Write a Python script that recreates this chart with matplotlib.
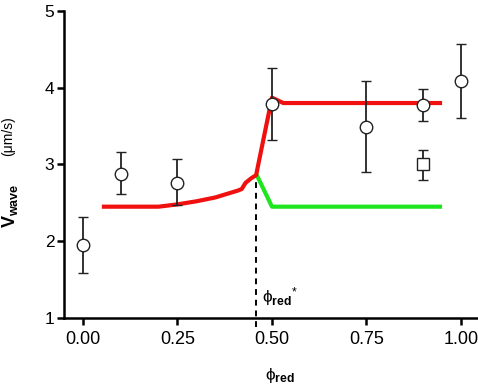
import numpy as np
import matplotlib
matplotlib.use('Agg')
import matplotlib.pyplot as plt

plt.rcParams['font.family'] = ['Liberation Sans', 'DejaVu Sans']
plt.rcParams['mathtext.fontset'] = 'custom'
plt.rcParams['mathtext.rm'] = 'Liberation Sans'
plt.rcParams['mathtext.bf'] = 'Liberation Sans:bold'
plt.rcParams['mathtext.it'] = 'Liberation Sans:italic'
plt.rcParams['mathtext.sf'] = 'Liberation Sans'

# measured wave speeds (open circles)
phi_exp = [0.00, 0.10, 0.25, 0.50, 0.75, 0.90, 1.00]
v_exp = [1.95, 2.88, 2.76, 3.79, 3.49, 3.77, 4.09]
v_exp_lo = [1.59, 2.62, 2.47, 3.32, 2.90, 3.56, 3.60]
v_exp_hi = [2.31, 3.16, 3.07, 4.25, 4.09, 3.98, 4.57]

# extra measurement (open square)
phi_sq = [0.90]
v_sq = [3.00]
v_sq_lo = [2.80]
v_sq_hi = [3.19]

# model curves
phi_red = [0.05, 0.20, 0.25, 0.30, 0.35, 0.39, 0.41, 0.42, 0.43, 0.445, 0.458, 0.50, 0.53, 0.95]
v_red = [2.45, 2.45, 2.48, 2.52, 2.57, 2.63, 2.66, 2.68, 2.76, 2.82, 2.86, 3.87, 3.80, 3.80]
phi_green = [0.458, 0.50, 0.95]
v_green = [2.88, 2.45, 2.45]

phi_star = 0.458

#===============================================================================
fig = plt.figure(figsize=(4.78, 3.89), dpi=100)
ax = fig.add_axes([0.134, 0.1825, 0.866, 0.7895])

ax.plot(phi_green, v_green, color='#1ee61e', lw=3.0, solid_capstyle='butt', zorder=2)
ax.plot(phi_red, v_red, color='#f01010', lw=3.0, solid_capstyle='butt', zorder=3)

ax.plot([phi_star, phi_star], [0.88, v_green[0]], color='black', ls=(0, (3, 2.5)),
        lw=1.4, clip_on=False, zorder=1)

v_exp = np.array(v_exp)
yerr = [v_exp - np.array(v_exp_lo), np.array(v_exp_hi) - v_exp]
ax.errorbar(phi_exp, v_exp, yerr=yerr, fmt='o', ms=9, mfc='white', mec='#222222',
            mew=1.0, ecolor='#222222', elinewidth=1.3, capsize=3.5, capthick=1.3,
            zorder=4)

v_sq = np.array(v_sq)
yerr_sq = [v_sq - np.array(v_sq_lo), np.array(v_sq_hi) - v_sq]
ax.errorbar(phi_sq, v_sq, yerr=yerr_sq, fmt='s', ms=8, mfc='white', mec='#222222',
            mew=1.0, ecolor='#222222', elinewidth=1.3, capsize=3.5, capthick=1.3,
            zorder=4)

ax.set_xlim([-0.05, 1.045])
ax.set_ylim([1, 5])
ax.set_xticks([0.0, 0.25, 0.5, 0.75, 1.0])
ax.set_xticklabels(['0.00', '0.25', '0.50', '0.75', '1.00'])
ax.set_yticks([1, 2, 3, 4, 5])

for s in ['top', 'right']:
    ax.spines[s].set_visible(False)
for s in ['left', 'bottom']:
    ax.spines[s].set_linewidth(1.8)
ax.tick_params(axis='both', direction='out', length=5, width=1.8, color='black')
ax.tick_params(axis='x', labelsize=13, pad=4)
ax.tick_params(axis='y', labelsize=12.5, pad=2)

ax.text(0.474, 1.2, r'ϕ$_{\mathbf{red}}$$^{*}$', fontsize=12.5, ha='left', va='baseline')

fig.text(0.554, 0.022, r'ϕ$_{\mathbf{red}}$', fontsize=12.5, ha='left', va='baseline')
fig.text(0.020, 0.470, r'$\mathbf{V}_{\mathbf{wave}}$', fontsize=13, rotation=90,
         ha='center', va='center')
fig.text(0.018, 0.650, '(μm/s)', fontsize=10, rotation=90, ha='center', va='center')

fig.savefig('out.png', dpi=100)
